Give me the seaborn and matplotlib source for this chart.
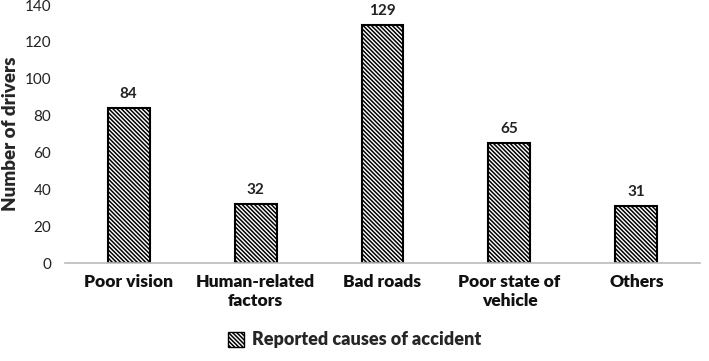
import matplotlib
matplotlib.use("Agg")
import matplotlib.pyplot as plt
import seaborn as sns
import pandas as pd
from matplotlib.patches import Patch

categories = ["Poor vision", "Human-related\nfactors", "Bad roads", "Poor state of\nvehicle", "Others"]
values = [84, 32, 129, 65, 31]
series_name = "Reported causes of accident"
y_ticks = [0, 20, 40, 60, 80, 100, 120, 140]

sns.set_theme(style="white")
plt.rcParams['font.family'] = ['Lato', 'DejaVu Sans']
plt.rcParams['hatch.linewidth'] = 1.1

HATCH = "\\" * 8

df = pd.DataFrame({"cause": categories, "n": values})

fig = plt.figure(figsize=(7.09, 3.61), dpi=100)
ax = fig.add_axes([0.092, 0.271, 0.895, 0.715])
sns.barplot(data=df, x="cause", y="n", ax=ax, color="white", width=0.33,
            edgecolor="black", linewidth=1.5, saturation=1)
for p in ax.patches:
    p.set_hatch(HATCH)
for p, v in zip(ax.patches, values):
    ax.text(p.get_x() + p.get_width() / 2, v + 4, str(v), ha="center", va="bottom",
            fontsize=11, fontweight="bold", color="#222222")

ax.set_ylim(0, 140)
ax.set_yticks(y_ticks)
ax.set_xlim(-0.5, len(categories) - 0.5)
ax.tick_params(axis="y", labelsize=11, colors="#222222", length=0, pad=10)
ax.tick_params(axis="x", labelsize=12.5, colors="#111111", length=0, pad=8)
for lab in ax.get_xticklabels():
    lab.set_fontweight("heavy")
for s in ["top", "right", "left"]:
    ax.spines[s].set_visible(False)
ax.spines["bottom"].set_color("#BBBBBB")
ax.spines["bottom"].set_linewidth(1.2)
ax.set_xlabel("")
ax.set_ylabel("Number of drivers", fontsize=13.5, fontweight="heavy", labelpad=4)

handle = Patch(facecolor="white", edgecolor="black", hatch=HATCH, label=series_name)
fig.legend(handles=[handle], loc="lower center", bbox_to_anchor=(0.5, -0.01), frameon=False,
           prop={"size": 13, "weight": "heavy"}, handlelength=0.9, handleheight=0.9, handletextpad=0.4)

fig.savefig("out.png", dpi=100)
